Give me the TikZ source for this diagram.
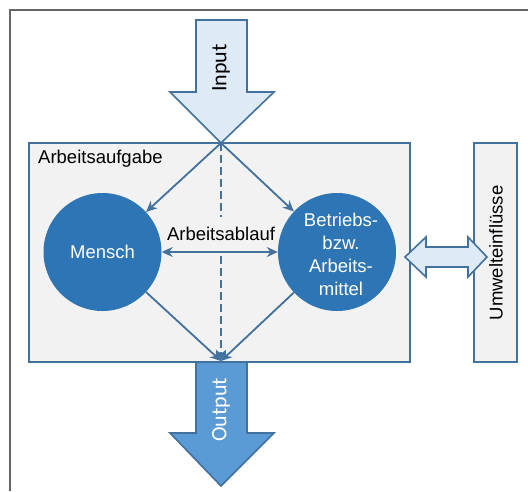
\documentclass[tikz,border=0pt]{standalone}
\usepackage{fontspec}
\setmainfont{Liberation Sans}
\newfontfamily\calibri{Carlito}
\usetikzlibrary{arrows.meta}
\definecolor{lineblue}{HTML}{41719C}
\definecolor{circblue}{HTML}{2E75B6}
\definecolor{boxgray}{HTML}{F2F2F2}
\definecolor{lightblue}{HTML}{DEEBF7}
\definecolor{midblue}{HTML}{5B9BD5}
\definecolor{framegray}{HTML}{666666}
\tikzset{
  box/.style={draw=lineblue, fill=boxgray, line width=1.6pt, rectangle, inner sep=0pt},
  circ/.style={circle, fill=circblue, draw=none, minimum size=118pt, inner sep=0pt, text=white, align=center,
    font=\fontsize{18.5}{23}\selectfont},
  conn/.style={draw=lineblue, line width=1.8pt, -{Stealth[length=11pt,width=10pt]}},
  dconn/.style={draw=lineblue, line width=1.8pt, {Stealth[length=11pt,width=10pt]}-{Stealth[length=11pt,width=10pt]}},
  dashconn/.style={draw=lineblue, line width=1.6pt, dash pattern=on 8pt off 4pt},
  blockarrow/.style={draw=lineblue, line width=1.6pt, line join=miter},
  lbl/.style={font=\fontsize{18.5}{22}\selectfont, inner sep=0pt},
}
\begin{document}
\begin{tikzpicture}[x=1pt, y=-1pt]
\useasboundingbox (0,0) rectangle (528,491);
% outer frame
\draw[framegray, line width=2pt] (10,491) -- (10,10) -- (528,10);
% main box
\node[box, minimum width=381pt, minimum height=219pt] (task) at (219.5,252.5) {};
\node[lbl, anchor=west] (tasklbl) at (38,159) {Arbeitsaufgabe};
% environment box
\node[box, minimum width=43pt, minimum height=219pt] (umwelt) at (495.5,252.5) {};
\node[lbl, rotate=90] (umweltlbl) at (496,253) {Umwelteinflüsse};
% input arrow
\draw[blockarrow, fill=lightblue] (196,20) -- (247,20) -- (247,92) -- (274,92) -- (221,143) -- (170,92) -- (196,92) -- cycle;
\node[rotate=90, inner sep=0pt, font=\calibri\fontsize{22}{24}\selectfont] (inputlbl) at (221,68) {Input};
% output arrow
\draw[blockarrow, fill=midblue] (196,362) -- (247,362) -- (247,433) -- (274,433) -- (221,486) -- (170,433) -- (196,433) -- cycle;
\node[rotate=90, inner sep=0pt, text=white, font=\calibri\fontsize{22}{24}\selectfont] (outputlbl) at (221,410) {Output};
% double block arrow
\draw[blockarrow, fill=lightblue] (405,257) -- (426,237) -- (426,247) -- (468,247) -- (468,237) -- (487,257) -- (468,277) -- (468,267) -- (426,267) -- (426,277) -- cycle;
% circles
\node[circ] (mensch) at (102.5,252) {Mensch};
\node[circ] (betrieb) at (337,252) {};
\node[circ, minimum size=0pt, fill=none] (betrieblbl) at (341,254) {Betriebs-\\bzw.\\Arbeits-\\mittel};
% coordinates
\coordinate (in) at (221,143);
\coordinate (out) at (221,361);
\coordinate (dashA) at (221,217);
\coordinate (dashB) at (221,256);
% label
\node[lbl] (ablauf) at (221,234) {Arbeitsablauf};
% connectors
\draw[conn] (in) -- (mensch);
\draw[conn] (in) -- (betrieb);
\draw[conn] (mensch) -- (out);
\draw[conn] (betrieb) -- (out);
\draw[dashconn] (in) -- (dashA);
\draw[dashconn, -{Stealth[length=11pt,width=10pt]}] (dashB) -- (out);
\draw[dconn] (mensch) -- (betrieb);
\end{tikzpicture}
\end{document}
